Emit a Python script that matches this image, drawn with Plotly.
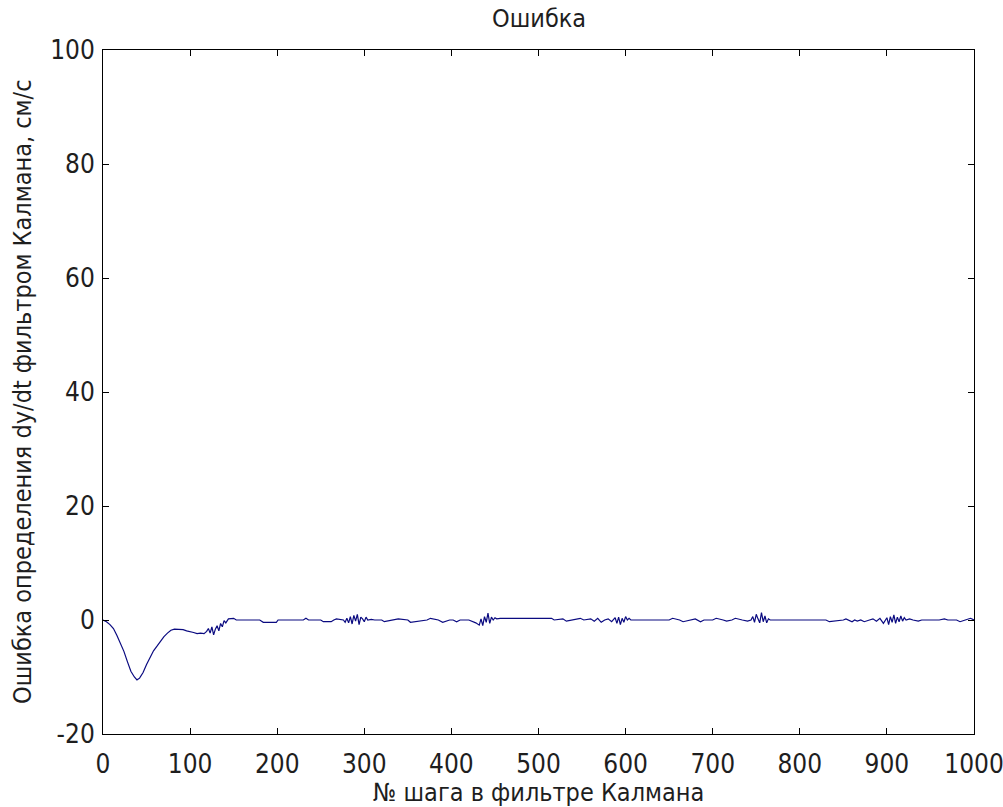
import plotly.graph_objects as go

# Step numbers and Kalman filter dy/dt error values (cm/s)
step = [0, 4, 8, 12, 16, 20, 24, 28, 32, 36, 39, 42, 46, 50, 54, 58, 62, 66, 70, 74,
        78, 82, 88, 92, 96, 100, 104, 108, 112, 116, 119, 121, 123, 125, 127, 129, 131, 133, 135, 137,
        139, 141, 144, 150, 153, 180, 184, 199, 201, 230, 233, 236, 250, 253, 262, 265, 268, 276, 278, 280,
        282, 284, 286, 288, 290, 292, 294, 296, 298, 300, 302, 304, 308, 312, 320, 323, 336, 339, 350, 353,
        372, 376, 385, 390, 398, 402, 406, 410, 420, 428, 432, 434, 436, 438, 440, 442, 444, 446, 448, 450,
        452, 456, 470, 500, 515, 518, 528, 532, 548, 552, 560, 564, 568, 572, 576, 580, 584, 588, 590, 592,
        594, 596, 598, 600, 602, 604, 606, 612, 640, 650, 654, 662, 666, 676, 680, 686, 690, 700, 704, 712,
        716, 722, 726, 734, 740, 744, 746, 748, 750, 752, 754, 756, 758, 760, 762, 764, 766, 768, 772, 780,
        800, 830, 834, 850, 853, 860, 863, 866, 870, 874, 880, 884, 888, 892, 896, 900, 902, 904, 906, 908,
        910, 912, 914, 916, 918, 920, 922, 926, 930, 936, 940, 960, 966, 970, 980, 984, 990, 994, 996, 1000]
error = [0.0, -0.3, -0.8, -1.5, -2.7, -4.0, -5.5, -7.3, -9.0, -10.0, -10.5, -10.2, -9.2, -7.8, -6.5, -5.4, -4.6, -3.7, -2.9, -2.3,
         -1.8, -1.6, -1.6, -1.7, -1.9, -2.0, -2.2, -2.4, -2.3, -2.4, -2.0, -1.5, -2.3, -1.2, -2.6, -1.6, -1.0, -1.9, -0.6, -1.2,
         -0.1, -0.5, 0.2, 0.3, 0.0, 0.0, -0.4, -0.4, 0.0, 0.0, 0.3, 0.0, 0.0, -0.3, -0.3, 0.0, 0.2, 0.0, -0.4, 0.3,
         -0.5, 0.6, -0.7, 0.8, -0.2, 1.0, -0.8, 0.5, 0.2, -0.3, 0.5, 0.0, 0.1, 0.0, 0.0, -0.3, 0.0, 0.2, 0.0, -0.4,
         0.0, 0.3, 0.0, -0.4, 0.0, 0.0, -0.3, 0.0, 0.0, -0.5, -0.9, 0.2, -1.0, 0.6, -0.4, 1.2, -0.6, 0.5, 0.0, 0.4,
         0.2, 0.3, 0.3, 0.3, 0.3, 0.0, 0.2, -0.2, 0.3, 0.0, 0.2, -0.2, 0.3, -0.4, 0.0, 0.2, -0.3, 0.4, -0.6, 0.5,
         -0.8, 0.3, -0.4, 0.6, 0.0, 0.3, 0.0, 0.0, 0.0, 0.0, 0.3, 0.0, -0.3, 0.0, 0.2, -0.3, 0.0, 0.0, 0.3, 0.0,
         -0.2, 0.0, 0.3, 0.0, -0.2, 0.0, 0.6, -0.4, 1.0, 0.2, -0.5, 1.3, -0.3, 0.7, -0.5, 0.2, 0.0, 0.0, 0.0, 0.0,
         0.0, 0.0, -0.3, 0.0, 0.2, -0.3, 0.0, -0.2, 0.0, -0.3, 0.0, 0.2, -0.2, 0.3, -0.6, 0.4, -0.8, 0.6, -0.4, 0.9,
         -0.6, 0.5, -0.3, 0.7, -0.2, 0.4, 0.0, 0.2, 0.0, -0.2, 0.0, 0.0, 0.2, 0.0, 0.0, -0.3, 0.0, 0.2, 0.3, 0.0]

x_ticks = [0, 100, 200, 300, 400, 500, 600, 700, 800, 900, 1000]
y_ticks = [-20, 0, 20, 40, 60, 80, 100]

title_text = "Ошибка"
x_label = "№ шага в фильтре Калмана"
y_label = "Ошибка определения dy/dt фильтром Калмана, см/с"

FONT = "DejaVu Sans Condensed, Liberation Sans Narrow, Arial, sans-serif"
TXT = "#1e1e1e"
TICK_SIZE = 26
LABEL_SIZE = 25

fig = go.Figure()
fig.add_trace(go.Scatter(x=step, y=error, mode="lines",
                         line=dict(color="#0a0a80", width=1.2), showlegend=False))

axis_common = dict(showline=True, linecolor="black", linewidth=1, mirror="ticks",
                   ticks="inside", ticklen=6, tickcolor="black", tickwidth=1,
                   showgrid=False, zeroline=False, ticklabeloverflow="allow",
                   automargin=False,
                   tickfont=dict(family=FONT, size=TICK_SIZE, color=TXT))

fig.update_xaxes(range=[0, 1000], tickvals=x_ticks, ticktext=[str(v) for v in x_ticks],
                 ticklabelstandoff=7, **axis_common)
fig.update_yaxes(range=[-20, 100], tickvals=y_ticks, ticktext=[str(v) for v in y_ticks],
                 ticklabelstandoff=2, **axis_common)

fig.update_layout(
    width=1003, height=807,
    margin=dict(l=103, r=29, t=50, b=73, autoexpand=False),
    paper_bgcolor="white", plot_bgcolor="white",
    font=dict(family=FONT, color=TXT),
    annotations=[
        dict(text=title_text, xref="paper", yref="paper", x=0.5, y=1, yshift=32,
             showarrow=False, font=dict(family=FONT, size=LABEL_SIZE, color=TXT),
             xanchor="center", yanchor="middle"),
        dict(text=x_label, xref="paper", yref="paper", x=0.5, y=0, yshift=-58,
             showarrow=False, font=dict(family=FONT, size=LABEL_SIZE, color=TXT),
             xanchor="center", yanchor="middle"),
        dict(text=y_label, xref="paper", yref="paper", x=0, y=0.5, xshift=-81,
             textangle=-90, showarrow=False, font=dict(family=FONT, size=LABEL_SIZE, color=TXT),
             xanchor="center", yanchor="middle"),
    ],
)

fig.write_html("out.html", config={"displayModeBar": False},
               post_script="document.body.style.margin='0px';document.body.style.overflow='hidden';")
